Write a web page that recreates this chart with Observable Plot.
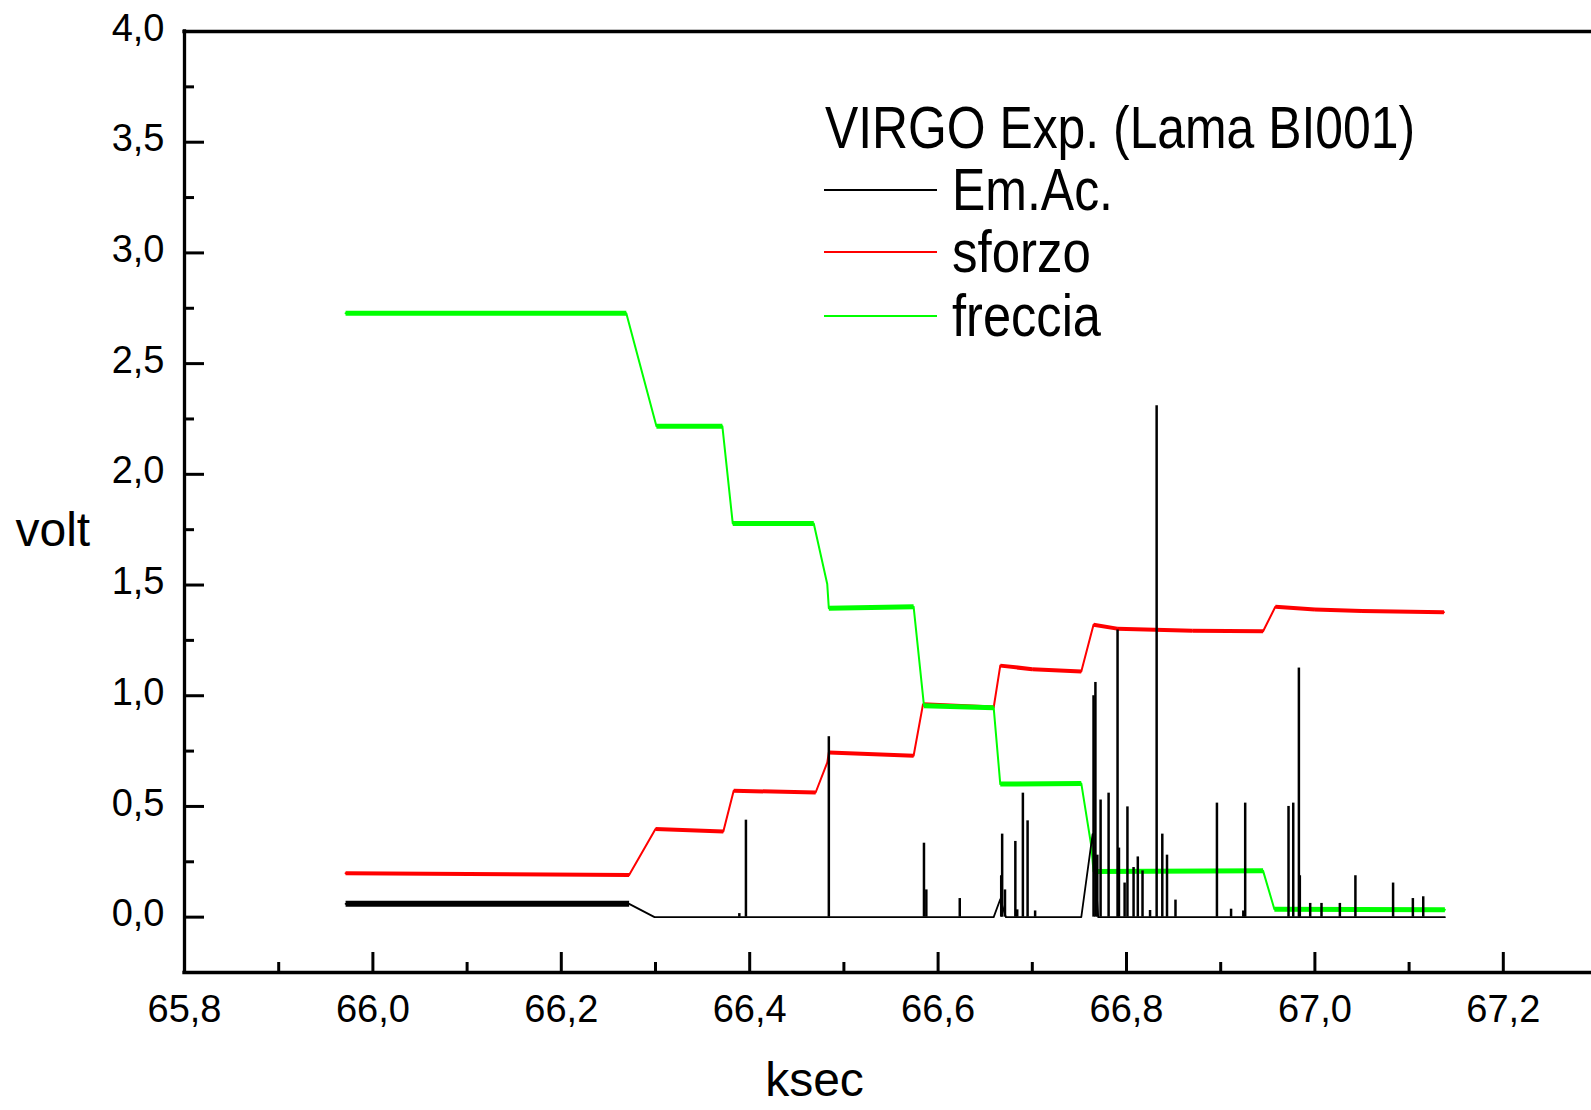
<!DOCTYPE html>
<html>
<head>
<meta charset="utf-8">
<script src="https://cdn.jsdelivr.net/npm/d3@7"></script>
<script src="https://cdn.jsdelivr.net/npm/@observablehq/plot@0.6"></script>
<style>
  html, body { margin: 0; padding: 0; background: white; }
  #chart svg { display: block; }
</style>
</head>
<body>
<div id="chart"></div>
<script>
// ---------------- data ----------------
const legendTitle = "VIRGO Exp. (Lama BI001)";
const seriesNames = ["Em.Ac.", "sforzo", "freccia"];
const seriesColors = ["#000000", "#ff0000", "#00ff00"];

const xTickValues = [65.8, 66.0, 66.2, 66.4, 66.6, 66.8, 67.0, 67.2];
const xMinorValues = [65.9, 66.1, 66.3, 66.5, 66.7, 66.9, 67.1];
const yTickValues = [0, 0.5, 1.0, 1.5, 2.0, 2.5, 3.0, 3.5, 4.0];
const yMinorValues = [0.25, 0.75, 1.25, 1.75, 2.25, 2.75, 3.25, 3.75];

// sforzo (red)
const sforzoT = [65.971, 66.272, 66.300, 66.372, 66.383, 66.470, 66.4824, 66.484, 66.574, 66.584, 66.659, 66.666, 66.700, 66.752, 66.765, 66.790, 66.870, 66.945, 66.958, 67.000, 67.050, 67.137];
const sforzoV = [0.198, 0.190, 0.398, 0.387, 0.571, 0.563, 0.699, 0.744, 0.729, 0.962, 0.947, 1.136, 1.120, 1.110, 1.321, 1.303, 1.294, 1.291, 1.402, 1.390, 1.383, 1.377];

// freccia (green)
const frecciaT = [65.971, 66.269, 66.301, 66.371, 66.382, 66.468, 66.4823, 66.484, 66.574, 66.585, 66.659, 66.666, 66.752, 66.7626, 66.765, 66.945, 66.957, 67.138];
const frecciaV = [2.728, 2.728, 2.217, 2.217, 1.778, 1.778, 1.505, 1.395, 1.402, 0.955, 0.946, 0.601, 0.604, 0.322, 0.206, 0.209, 0.036, 0.033];

// Em.Ac. (black) base trace
const emacT = [65.971, 66.272, 66.299, 66.659, 66.666, 66.672, 66.752, 66.764, 66.770, 67.138];
const emacV = [0.060, 0.060, 0.000, 0.000, 0.081, 0.000, 0.000, 0.375, 0.000, 0.000];

// Em.Ac. bursts (spikes)
const spikeT = [66.389, 66.396, 66.484, 66.585, 66.5875, 66.623, 66.667, 66.668, 66.671, 66.682, 66.684, 66.690, 66.695, 66.703,
                66.765, 66.767, 66.769, 66.7725, 66.781, 66.7905, 66.792, 66.798, 66.801, 66.8075, 66.812, 66.817, 66.825, 66.832,
                66.838, 66.843, 66.852, 66.896, 66.911, 66.924, 66.926, 66.972, 66.977, 66.983, 66.984, 66.995, 67.007, 67.0265,
                67.043, 67.083, 67.104, 67.115];
const spikeV = [0.016, 0.438, 0.815, 0.334, 0.123, 0.084, 0.187, 0.375, 0.123, 0.342, 0.033, 0.560, 0.435, 0.028,
                1.000, 1.060, 0.280, 0.529, 0.560, 1.297, 0.312, 0.154, 0.498, 0.224, 0.272, 0.209, 0.030, 2.310,
                0.375, 0.280, 0.077, 0.515, 0.036, 0.028, 0.515, 0.500, 0.515, 1.125, 0.187, 0.062, 0.062, 0.062,
                0.187, 0.154, 0.084, 0.092];

const xLabel = "ksec";
const yLabel = "volt";

// ---------------- layout ----------------
const W = 1591, H = 1110;
const mL = 184, mR = 0, mT = 31, mB = 138;
const xMin = 65.8, pxPerX = 942;
const xMax = xMin + (W - mL - mR) / pxPerX;
const yMin = -0.25, yMax = 4.0;
const pxPerY = (H - mT - mB) / (yMax - yMin);
const FONT = "'Liberation Sans', Arial, Helvetica, sans-serif";

const rows = (T, V) => T.map((t, i) => ({t, v: V[i]}));
const sforzo = rows(sforzoT, sforzoV);
const freccia = rows(frecciaT, frecciaV);
const emac = rows(emacT, emacV);
const spikes = rows(spikeT, spikeV);

// flat (noisy) portions of each trace are drawn thicker
function flats(data, minV = -Infinity) {
  const out = [];
  for (let i = 0; i < data.length - 1; i++) {
    const a = data[i], b = data[i + 1];
    if (Math.abs(b.v - a.v) < 0.04 && (b.t - a.t) > 0.015 && a.v > minV)
      out.push({t1: a.t, v1: a.v, t2: b.t, v2: b.v});
  }
  return out;
}

const fmt = d => d.toFixed(1).replace(".", ",");

const chart = Plot.plot({
  width: W,
  height: H,
  marginLeft: mL,
  marginRight: mR,
  marginTop: mT,
  marginBottom: mB,
  style: {fontFamily: FONT, fontSize: "38px", background: "white", color: "black"},
  x: {domain: [xMin, xMax]},
  y: {domain: [yMin, yMax]},
  marks: [
    // data
    Plot.line(sforzo, {x: "t", y: "v", stroke: seriesColors[1], strokeWidth: 2}),
    Plot.link(flats(sforzo), {x1: "t1", y1: "v1", x2: "t2", y2: "v2", stroke: seriesColors[1], strokeWidth: 4}),
    Plot.line(freccia, {x: "t", y: "v", stroke: seriesColors[2], strokeWidth: 2}),
    Plot.link(flats(freccia), {x1: "t1", y1: "v1", x2: "t2", y2: "v2", stroke: seriesColors[2], strokeWidth: 5}),
    Plot.line(emac, {x: "t", y: "v", stroke: seriesColors[0], strokeWidth: 1.8}),
    Plot.link(flats(emac, 0.03), {x1: "t1", y1: "v1", x2: "t2", y2: "v2", stroke: seriesColors[0], strokeWidth: 6}),
    Plot.ruleX(spikes, {x: "t", y1: 0, y2: "v", stroke: seriesColors[0], strokeWidth: 2.5}),

    // frame (left, bottom, top)
    Plot.ruleX([xMin], {stroke: "black", strokeWidth: 3.3, strokeLinecap: "square"}),
    Plot.ruleY([yMin, yMax], {stroke: "black", strokeWidth: 3.3, strokeLinecap: "square"}),

    // inward ticks
    Plot.ruleX(xTickValues, {x: d => d, y1: yMin, y2: yMin + 20 / pxPerY, stroke: "black", strokeWidth: 3}),
    Plot.ruleX(xMinorValues, {x: d => d, y1: yMin, y2: yMin + 10 / pxPerY, stroke: "black", strokeWidth: 3}),
    Plot.ruleY(yTickValues, {y: d => d, x1: xMin, x2: xMin + 20 / pxPerX, stroke: "black", strokeWidth: 3}),
    Plot.ruleY(yMinorValues, {y: d => d, x1: xMin, x2: xMin + 10 / pxPerX, stroke: "black", strokeWidth: 3}),

    // tick labels
    Plot.axisX({ticks: xTickValues, tickSize: 0, tickPadding: 23, tickFormat: fmt, label: null, fontSize: 38}),
    Plot.axisY({ticks: yTickValues, tickSize: 0, tickPadding: 20, tickFormat: fmt, label: null, fontSize: 38, dy: -3}),

    // axis titles
    Plot.text([yLabel], {frameAnchor: "left", text: d => d, textAnchor: "start", lineAnchor: "middle", dx: -169, dy: 29, fontSize: 48}),
    Plot.text([xLabel], {frameAnchor: "bottom", text: d => d, textAnchor: "middle", lineAnchor: "middle", dx: -73.5, dy: 108.6, fontSize: 48})
  ]
});

// ---------------- legend (inside the plot, condensed type) ----------------
const svg = d3.select(chart);
const lg = svg.append("g")
  .attr("font-family", FONT).attr("font-size", 60).attr("fill", "black")
  .attr("text-anchor", "start").style("text-anchor", "start");
lg.append("text")
  .attr("x", 825).attr("y", 148)
  .attr("text-anchor", "start")
  .attr("textLength", 590).attr("lengthAdjust", "spacingAndGlyphs")
  .text(legendTitle);
const itemY = [190, 252, 316];
const itemBase = [210, 272, 336];
const itemLen = [161, 139, 149];
seriesNames.forEach((name, i) => {
  lg.append("line")
    .attr("x1", 824).attr("x2", 937)
    .attr("y1", itemY[i]).attr("y2", itemY[i])
    .attr("stroke", seriesColors[i]).attr("stroke-width", 1.8);
  lg.append("text")
    .attr("x", 952).attr("y", itemBase[i])
    .attr("text-anchor", "start")
    .attr("textLength", itemLen[i]).attr("lengthAdjust", "spacingAndGlyphs")
    .text(name);
});

document.getElementById("chart").appendChild(chart);
</script>
</body>
</html>
